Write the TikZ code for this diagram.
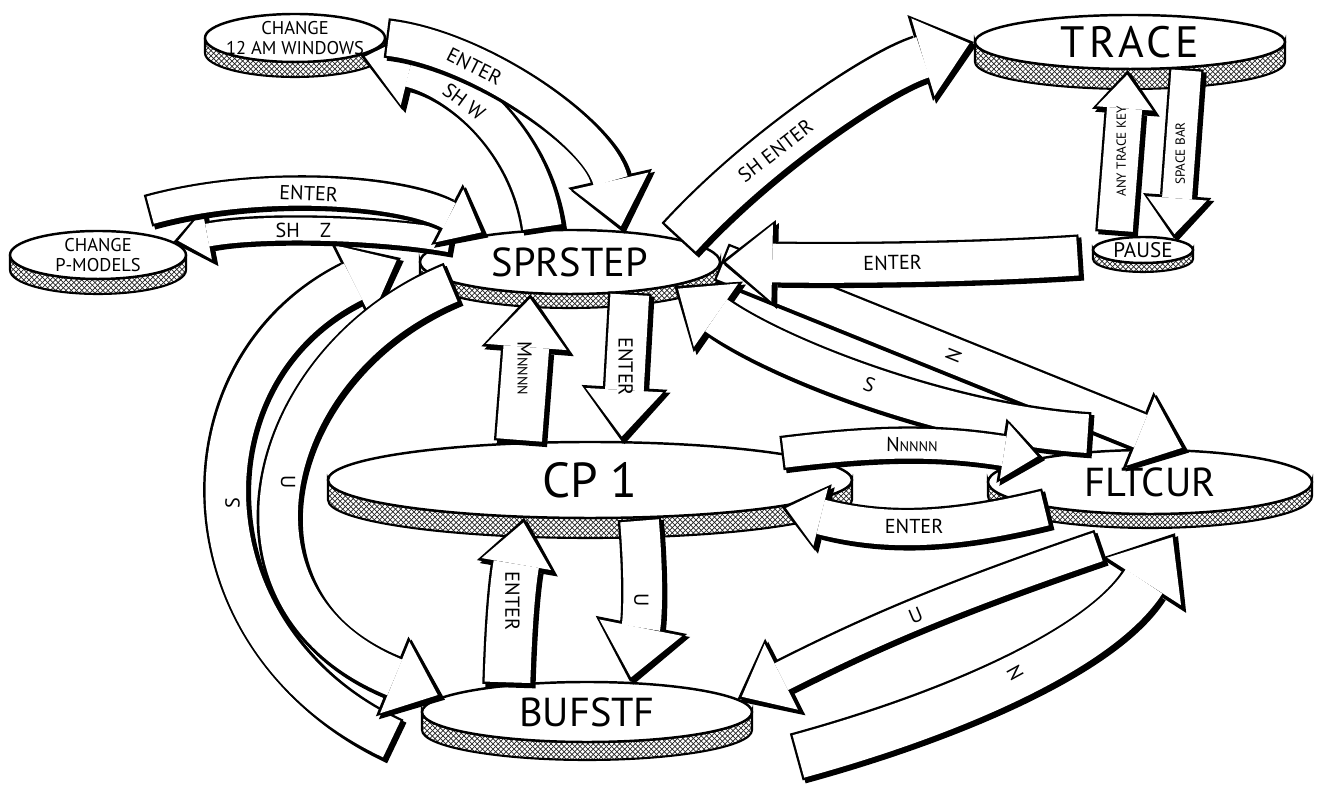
\documentclass[tikz,border=0pt]{standalone}
\usepackage{fontspec}
\setmainfont{PT Sans}
\usetikzlibrary{arrows.meta, shapes.geometric, patterns, calc}

\tikzset{
  disc/.style={ellipse, draw=black, line width=1.4pt, fill=white, inner sep=0pt},
  rim/.style={draw=black, line width=1.2pt, pattern=crosshatch, pattern color=black!85},
  hugename/.style={font=\fontsize{28}{30}\selectfont},
  tracename/.style={font=\fontsize{25}{27}\selectfont\addfontfeature{LetterSpace=9}},
  bigname/.style={font=\fontsize{23}{25}\selectfont},
  midname/.style={font=\fontsize{12}{13}\selectfont},
  smallname/.style={font=\fontsize{10.5}{11}\selectfont, align=center},
  lbl/.style={font=\fontsize{11.5}{12}\selectfont, inner sep=1pt},
  tinylbl/.style={font=\fontsize{7.5}{8}\selectfont, inner sep=1pt},
  blk/.style 2 args={
    draw=white, line width=#1, shorten >=2.6pt, shorten <=1.3pt,
    -{Triangle[width=#2, length=0.6*#2, line width=0pt]},
    preaction={draw=black, line width=#1+2.6pt, shorten >=0pt, shorten <=0pt,
      -{Triangle[width=#2+5pt, length=0.6*#2+4.2pt, line width=0pt]},
      transform canvas={shift={(1.7pt,-1.7pt)}}},
    preaction={draw=black, line width=#1+2.6pt, shorten >=0pt, shorten <=0pt,
      -{Triangle[width=#2+5pt, length=0.6*#2+4.2pt, line width=0pt]}},
  },
}

% disc: #1 name, #2 x, #3 y, #4 x radius, #5 y radius, #6 rim depth,
%       #7 font style, #8 text
\newcommand{\discnode}[8]{
  \draw[rim] (#2-#4,#3) -- ++(0,-#6)
    arc[start angle=180, end angle=360, x radius=#4, y radius=#5]
    -- ++(0,#6)
    arc[start angle=0, end angle=-180, x radius=#4, y radius=#5] -- cycle;
  \node[disc, minimum width=#4*0.4mm, minimum height=#5*0.4mm] (#1) at (#2,#3) {};
  \node[#7] (#1-txt) at (#1.center) {#8};
}

\begin{document}
\begin{tikzpicture}[x=0.2mm, y=0.2mm]
\useasboundingbox (0,0) rectangle (1324,794);

% the discs
\discnode{w12}{295}{756}{90}{24}{15}{smallname}{CHANGE\\12 AM WINDOWS}
\discnode{pmodels}{98}{539}{88}{24}{15}{smallname}{CHANGE\\P-MODELS}
\discnode{trace}{1130}{752}{155}{27}{20}{tracename}{TRACE}
\discnode{pause}{1143}{544}{50}{13}{9}{midname}{PAUSE}
\discnode{sprstep}{570}{532}{150}{32}{14}{bigname}{SPRSTEP}
\discnode{cp1}{590}{314}{262}{38}{20}{hugename}{CP 1}
\discnode{fltcur}{1150}{312}{162}{32}{14}{bigname}{FLTCUR}
\discnode{bufstf}{587}{82}{165}{30}{18}{bigname}{BUFSTF}

% left loops
\draw[blk={23pt}{46pt}] ($(bufstf.west)+(-27,-28)$)
  .. controls (180,154) and (175,424) .. ($(sprstep.west)+(-18,4)$)
  node[lbl, pos=0.5, rotate=90] {S};
\draw[blk={22pt}{44pt}] (sprstep.190)
  .. controls (265,434) and (205,194) .. (bufstf.174)
  node[lbl, pos=0.5, rotate=-90] {U};

% to and from the change discs
\draw[blk={13pt}{28pt}] (sprstep.170)
  .. controls (380,566) and (260,569) .. (pmodels.10)
  node[lbl, sloped, pos=0.55] {SH\quad Z};
\draw[blk={16pt}{34pt}] ($(pmodels.north)+(50,19)$)
  .. controls (260,614) and (400,604) .. (sprstep.162)
  node[lbl, sloped, pos=0.45] {ENTER};
\draw[blk={22pt}{44pt}] (sprstep.130)
  .. controls (530,654) and (460,714) .. (w12.-15)
  node[lbl, sloped, pos=0.6] {SH W};
\draw[blk={20pt}{44pt}] (w12.east)
  .. controls (480,745) and (600,660) .. (sprstep.31)
  node[lbl, sloped, pos=0.3] {ENTER};

% trace and pause
\draw[blk={24pt}{46pt}] (sprstep.12)
  .. controls (760,644) and (880,724) .. (trace.west)
  node[lbl, sloped, pos=0.35] {SH ENTER};
\draw[blk={20pt}{32pt}] ($(pause.north)+(-28,3)$) -- (trace.-95)
  node[tinylbl, midway, rotate=90] {ANY TRACE KEY};
\draw[blk={17pt}{34pt}] (trace.-25) -- (pause.20)
  node[tinylbl, midway, rotate=90] {SPACE BAR};

% sprstep and fltcur
\draw[blk={20pt}{42pt}] (sprstep.east) -- (fltcur.42)
  node[lbl, sloped, pos=0.5, rotate=90] {N};
\draw[blk={22pt}{44pt}] ($(fltcur.north)+(-60,15)$)
  .. controls (950,369) and (780,434) .. (sprstep.-13)
  node[lbl, sloped, pos=0.5] {S};
\draw[blk={22pt}{44pt}] ($(pause.west)+(-12,-6)$)
  .. controls (960,530) and (820,530) .. (sprstep.east)
  node[lbl, sloped, pos=0.5] {ENTER};

% sprstep and cp1
\draw[blk={26pt}{46pt}] (cp1.152) -- (sprstep.-141)
  node[lbl, midway, rotate=-90] {M{\fontsize{8}{9}\selectfont NNNN}};
\draw[blk={22pt}{44pt}] (sprstep.-27) -- (cp1.51)
  node[lbl, midway, rotate=-90] {ENTER};

% cp1 and fltcur
\draw[blk={17pt}{32pt}] (cp1.8) to[bend left=8]
  node[lbl, sloped] {N{\fontsize{8}{9}\selectfont NNNN}} (fltcur.167);
\draw[blk={20pt}{34pt}] (fltcur.-166) to[bend left=14]
  node[lbl] {ENTER} (cp1.-8);

% cp1 and bufstf
\draw[blk={26pt}{40pt}] (bufstf.161) to[bend left=4]
  node[lbl, rotate=-90] {ENTER} (cp1.-150);
\draw[blk={22pt}{48pt}] (cp1.-38) to[bend left=8]
  node[lbl, rotate=-90] {U} (bufstf.35);

% bufstf and fltcur
\draw[blk={25pt}{50pt}] ($(bufstf.east)+(43,-45)$)
  .. controls (950,79) and (1100,144) .. ($(fltcur.south)+(25,-18)$)
  node[lbl, sloped, pos=0.5, rotate=90] {N};
\draw[blk={17pt}{42pt}] ($(fltcur.south)+(-50,-31)$) to[bend right=4]
  node[lbl, sloped] {U} (bufstf.5);

\end{tikzpicture}
\end{document}
